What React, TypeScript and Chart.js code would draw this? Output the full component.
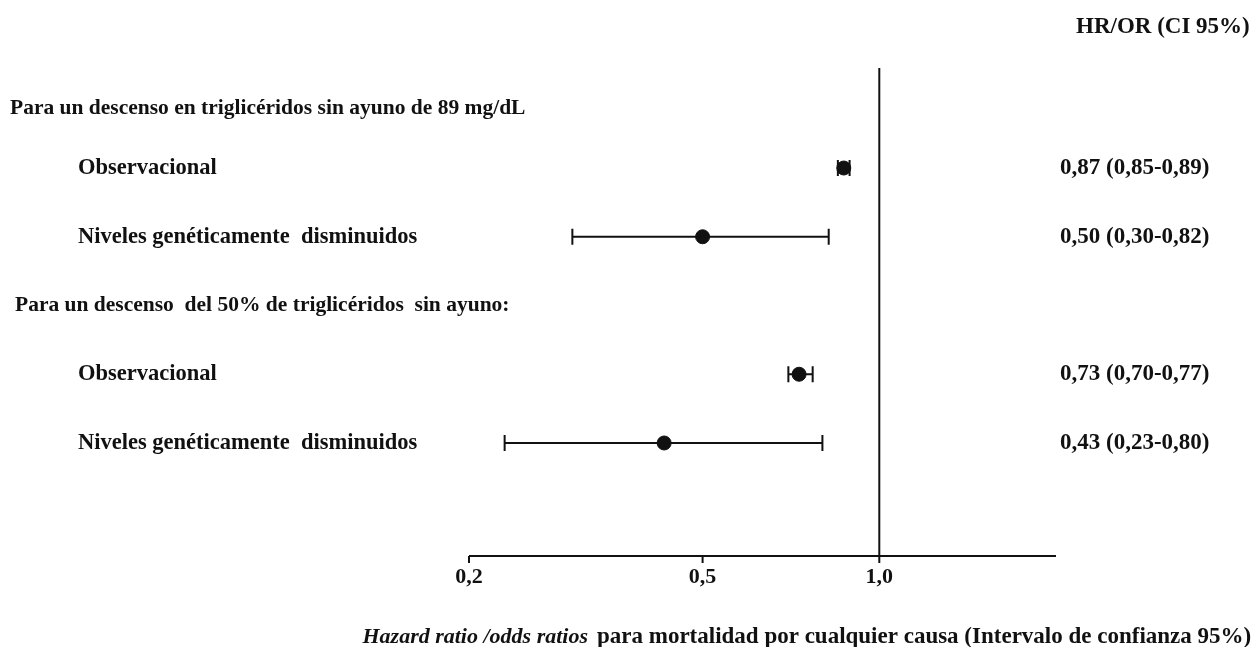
import React, { useEffect, useRef } from "react";
import { Chart, registerables } from "chart.js";

Chart.register(...registerables);

const headerLabels = [
  "Para un descenso en triglicéridos sin ayuno de 89 mg/dL",
  "Para un descenso  del 50% de triglicéridos  sin ayuno:",
];
const headerRows = [0.13, 3.0];
const headerX = [10, 15];

const rowLabels = [
  "Observacional",
  "Niveles genéticamente  disminuidos",
  "Observacional",
  "Niveles genéticamente  disminuidos",
];
const rowPositions = [1, 2, 4, 5];
const estimates = [0.87, 0.5, 0.73, 0.43];
const lowerCI = [0.85, 0.3, 0.7, 0.23];
const upperCI = [0.89, 0.82, 0.77, 0.8];
const valueLabels = [
  "0,87 (0,85-0,89)",
  "0,50 (0,30-0,82)",
  "0,73 (0,70-0,77)",
  "0,43 (0,23-0,80)",
];
const xTicks = [0.2, 0.5, 1.0];
const xTickLabels = ["0,2", "0,5", "1,0"];
const columnTitle = "HR/OR (CI 95%)";
const axisTitleItalic = "Hazard ratio /odds ratios";
const axisTitleRest = "para mortalidad por cualquier causa (Intervalo de confianza 95%)";

const FONT = '"Liberation Serif", "Times New Roman", serif';
const INK = "#111";

const forestPlugin = {
  id: "forest",
  afterDatasetsDraw(chart: any) {
    const ctx = chart.ctx as CanvasRenderingContext2D;
    const xs = chart.scales.x;
    const ys = chart.scales.y;
    ctx.save();
    ctx.strokeStyle = INK;
    ctx.lineWidth = 2;
    for (let i = 0; i < estimates.length; i++) {
      const y = ys.getPixelForValue(rowPositions[i]);
      const x1 = xs.getPixelForValue(lowerCI[i]);
      const x2 = xs.getPixelForValue(upperCI[i]);
      ctx.beginPath();
      ctx.moveTo(x1, y);
      ctx.lineTo(x2, y);
      ctx.moveTo(x1, y - 8);
      ctx.lineTo(x1, y + 8);
      ctx.moveTo(x2, y - 8);
      ctx.lineTo(x2, y + 8);
      ctx.stroke();
    }
    ctx.restore();
  },
  beforeDatasetsDraw(chart: any) {
    const ctx = chart.ctx as CanvasRenderingContext2D;
    const xs = chart.scales.x;
    const ys = chart.scales.y;
    const area = chart.chartArea;
    ctx.save();
    ctx.strokeStyle = INK;
    ctx.lineWidth = 2;
    ctx.beginPath();
    ctx.moveTo(area.left, area.bottom);
    ctx.lineTo(area.right, area.bottom);
    ctx.stroke();
    ctx.beginPath();
    for (const t of xTicks) {
      const x = xs.getPixelForValue(t);
      ctx.moveTo(x, area.bottom);
      ctx.lineTo(x, area.bottom + 7);
    }
    ctx.stroke();
    const xr = xs.getPixelForValue(1);
    ctx.beginPath();
    ctx.moveTo(xr, area.top);
    ctx.lineTo(xr, area.bottom);
    ctx.stroke();

    ctx.fillStyle = INK;
    ctx.textBaseline = "middle";
    ctx.font = `bold 22px ${FONT}`;
    ctx.textAlign = "center";
    xTicks.forEach((t, i) => {
      ctx.fillText(xTickLabels[i], xs.getPixelForValue(t), area.bottom + 21);
    });
    ctx.textAlign = "left";
    ctx.font = `bold 21.5px ${FONT}`;
    headerLabels.forEach((h, i) => {
      ctx.fillText(h, headerX[i], ys.getPixelForValue(headerRows[i]));
    });
    ctx.font = `bold 22.5px ${FONT}`;
    rowLabels.forEach((l, i) => {
      ctx.fillText(l, 78, ys.getPixelForValue(rowPositions[i]));
    });
    ctx.font = `bold 23px ${FONT}`;
    valueLabels.forEach((l, i) => {
      ctx.fillText(l, 1060, ys.getPixelForValue(rowPositions[i]));
    });
    ctx.fillText(columnTitle, 1076, 27);
    // axis title
    ctx.font = `bold 23px ${FONT}`;
    const restX = 597;
    ctx.fillText(axisTitleRest, restX, 637);
    ctx.font = `italic bold 22px ${FONT}`;
    ctx.textAlign = "right";
    ctx.fillText(axisTitleItalic, restX - 9, 637);
    ctx.restore();
  },
};

export default function App() {
  const ref = useRef<HTMLCanvasElement>(null);
  useEffect(() => {
    if (!ref.current) return;
    const chart = new Chart(ref.current, {
      type: "scatter",
      data: {
        datasets: [
          {
            data: estimates.map((e, i) => ({ x: e, y: rowPositions[i] })),
            backgroundColor: INK,
            borderColor: INK,
            pointRadius: 7,
            pointHoverRadius: 7,
          },
        ],
      },
      options: {
        animation: false,
        responsive: false,
        maintainAspectRatio: false,
        layout: { padding: { left: 469, right: 197, top: 68, bottom: 91 } },
        plugins: { legend: { display: false }, tooltip: { enabled: false } },
        scales: {
          x: { type: "logarithmic", min: 0.2, max: 2.0, display: false },
          y: { type: "linear", min: -0.455, max: 6.644, reverse: true, display: false },
        },
      },
      plugins: [forestPlugin],
    });
    return () => chart.destroy();
  }, []);
  return (
    <div style={{ position: "fixed", left: 0, top: 0, width: 1253, height: 647, background: "#fff" }}>
      <canvas ref={ref} width={1253} height={647} style={{ width: 1253, height: 647 }} />
    </div>
  );
}
